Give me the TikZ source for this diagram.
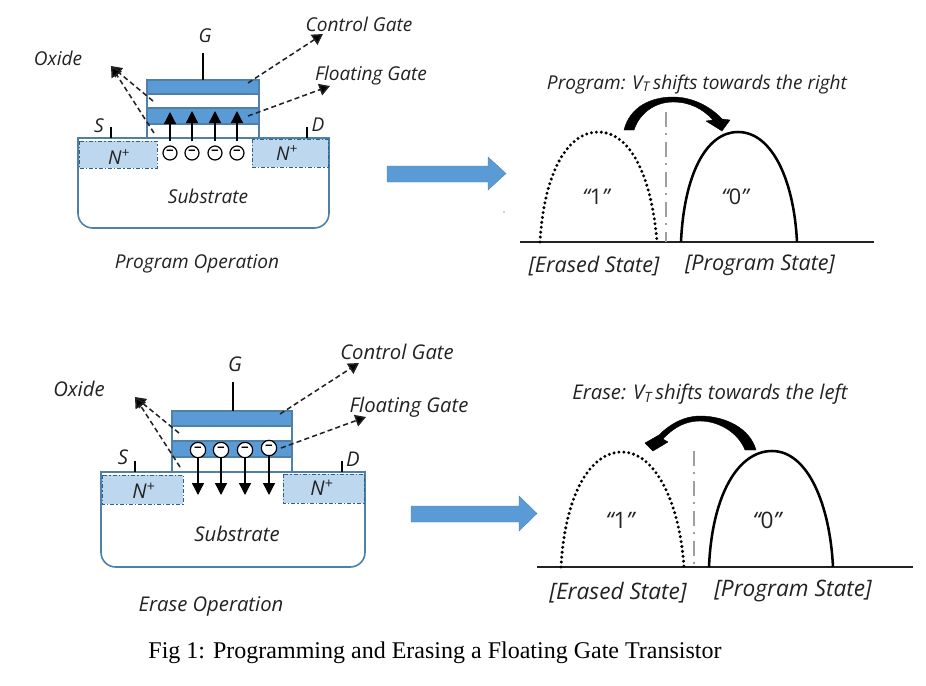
\documentclass[tikz,border=0pt]{standalone}
\usepackage{fontspec}
\setmainfont{Open Sans}
\newfontfamily\capfont{Liberation Serif}
\usetikzlibrary{arrows.meta}
\definecolor{gateblue}{HTML}{5B9BD5}
\definecolor{edgeblue}{HTML}{4F81A8}
\definecolor{wellblue}{HTML}{BDD7EE}
\definecolor{welledge}{HTML}{2F5F8A}
\definecolor{inkgrey}{HTML}{222222}
\tikzset{
  lbl/.style={font=\fontsize{14.3}{17}\selectfont\itshape, text=inkgrey, inner sep=0pt},
  lblb/.style={font=\fontsize{15.2}{18}\selectfont\itshape, text=inkgrey, inner sep=0pt},
  vals/.style={font=\fontsize{16.2}{19}\selectfont\itshape, text=inkgrey, inner sep=0pt},
  valsb/.style={font=\fontsize{17}{20}\selectfont\itshape, text=inkgrey, inner sep=0pt},
  oxidebox/.style={draw=edgeblue, line width=1.2pt, fill=white},
  gatebox/.style={draw=edgeblue, line width=1.2pt, fill=gateblue},
  wellbox/.style={draw=welledge, line width=.7pt, dash pattern=on 3pt off 1.5pt on 1pt off 1.5pt, fill=wellblue},
  subedge/.style={draw=edgeblue, line width=1.2pt, fill=white},
  lead/.style={draw=black, line width=.8pt},
  pointer/.style={draw=inkgrey, line width=1.15pt, dash pattern=on 3.8pt off 2.4pt, -{Triangle[length=8pt,width=9pt,fill=black]}},
  flow/.style={draw=black, line width=1pt, -{Triangle[length=9pt,width=9pt,fill=black]}},
  electron/.style={circle, draw=black, line width=.9pt, fill=white, minimum size=10.5pt, inner sep=0pt, font=\fontsize{10}{10}\selectfont\bfseries},
  blockarrow/.style={fill=gateblue, draw=edgeblue, line width=.3pt},
  erased/.style={draw=black, line width=2.5pt, line cap=round, dash pattern=on 0pt off 3.7pt},
  written/.style={draw=black, line width=1.9pt},
  axisline/.style={draw=inkgrey, line width=1pt},
  centreline/.style={draw=gray!75, line width=2pt, dash pattern=on 11pt off 5pt on 1.5pt off 5pt},
  swoop/.style={fill=black, draw=black, line width=.3pt, line join=round}
}
\begin{document}
\begin{tikzpicture}[x=.75pt,y=-.75pt]
\useasboundingbox (0,0) rectangle (926,686);

% ---- programming: device cross-section ----
\draw[subedge] (78,138) [rounded corners=11pt] -- (78,228) -- (329,228) [sharp corners] -- (329,138) -- cycle;
\draw[wellbox] (79,141) rectangle (157,168);
\draw[wellbox] (252,139) rectangle (328,167);
\draw[oxidebox] (146.7,80) rectangle (259,138);
\draw[oxidebox] (146.7,94) rectangle (259,108);
\draw[gatebox] (146.7,80) rectangle (259,94);
\draw[gatebox] (146.7,108) rectangle (259,124);
\coordinate (pg) at (203,80);
\coordinate (pgtop) at (203,53);
\draw[lead] (pg) -- (pgtop);
\coordinate (ps) at (111,138);
\coordinate (pstop) at (111,127);
\draw[lead] (ps) -- (pstop);
\coordinate (pd) at (307,138);
\coordinate (pdtop) at (307,127);
\draw[lead] (pd) -- (pdtop);

\node[electron] (pe1) at (170,153) {−};
\node[electron] (pe2) at (192,153) {−};
\node[electron] (pe3) at (215,153) {−};
\node[electron] (pe4) at (237,153) {−};
\coordinate (pf1) at (170,112);
\coordinate (pf2) at (192,111);
\coordinate (pf3) at (215,111);
\coordinate (pf4) at (237,111);
\draw[flow,shorten <=3pt] (pe1.north) -- (pf1);
\draw[flow,shorten <=3pt] (pe2.north) -- (pf2);
\draw[flow,shorten <=3pt] (pe3.north) -- (pf3);
\draw[flow,shorten <=3pt] (pe4.north) -- (pf4);

\coordinate (poxtip) at (111,66);
\coordinate (poxa) at (153,101);
\coordinate (poxb) at (154,133);
\coordinate (pcga) at (248,83);
\coordinate (pcgb) at (323,34);
\coordinate (pfga) at (248,116);
\coordinate (pfgb) at (330,86);
\draw[pointer] (poxa) -- (poxtip);
\draw[pointer] (poxb) -- (poxtip);
\draw[pointer] (pcga) -- (pcgb);
\draw[pointer] (pfga) -- (pfgb);

\node[lbl] (pGl) at (205,36) {G};
\node[lbl] (pOx) at (58,58) {Oxide};
\node[lbl] (pCG) at (359,24) {Control Gate};
\node[lbl] (pFG) at (371,76) {Floating Gate};
\node[lbl] (pSl) at (99,126) {S};
\node[lbl] (pDl) at (318,125) {D};
\node[lbl] (pNl) at (119,157) {N\textsuperscript{+}};
\node[lbl] (pNr) at (287,153) {N\textsuperscript{+}};
\node[lbl] (pSub) at (208,196) {Substrate};
\node[lbl] (pOp) at (197,264) {Program Operation};

\draw[blockarrow] (387,166) -- (488,166) -- (488,157) -- (506,173.5) -- (488,190) -- (488,182) -- (387,182) -- cycle;
\fill[black!70] (504,212) circle (.7);

% ---- programming: threshold distributions ----
\coordinate (pa0) at (520,242);
\coordinate (pa1) at (874,242);
\draw[axisline] (pa0) -- (pa1);
\coordinate (pc0) at (666,112);
\coordinate (pc1) at (666,242);
\draw[centreline] (pc0) -- (pc1);
\draw[erased] (540,242) .. controls (544,172) and (568,132) .. (598,132) .. controls (632,132) and (652,180) .. (657,242);
\draw[written] (681,242) .. controls (684,175) and (706,132) .. (738,132) .. controls (772,132) and (794,180) .. (797,242);
\draw[swoop] (624,130) .. controls (630,106) and (652,97) .. (673,97) .. controls (693,97) and (711,107) .. (722,119) -- (730,120) -- (722,131) -- (706,121) -- (713,120) .. controls (703,109) and (690,102) .. (673,102) .. controls (656,102) and (640,112) .. (634,130) -- cycle;

\node[lbl] (pTitle) at (697,84) {Program: V\textsubscript{T}\,shifts towards the right};
\node[vals] (pOne) at (596,197) {“{\upshape 1}”};
\node[vals] (pZero) at (735,197) {“{\upshape 0}”};
\node[vals] (pEr) at (594,266) {[Erased State]};
\node[vals] (pPr) at (760,265) {[Program State]};

% ---- erasing: device cross-section ----
\draw[subedge] (101,472) [rounded corners=11pt] -- (101,567) -- (365,567) [sharp corners] -- (365,472) -- cycle;
\draw[wellbox] (102,475) rectangle (183,504);
\draw[wellbox] (283,474) rectangle (364,503);
\draw[oxidebox] (172,411) rectangle (292,472);
\draw[oxidebox] (172,426) rectangle (292,441);
\draw[gatebox] (172,411) rectangle (292,426);
\draw[gatebox] (172,441) rectangle (292,457);
\coordinate (eg) at (233,411);
\coordinate (egtop) at (233,382);
\draw[lead] (eg) -- (egtop);
\coordinate (es) at (135,472);
\coordinate (estop) at (135,461);
\draw[lead] (es) -- (estop);
\coordinate (ed) at (342,472);
\coordinate (edtop) at (342,461);
\draw[lead] (ed) -- (edtop);

\node[electron,minimum size=11.5pt] (ee1) at (198,450) {−};
\node[electron,minimum size=11.5pt] (ee2) at (221,450) {−};
\node[electron,minimum size=11.5pt] (ee3) at (245,450) {−};
\node[electron,minimum size=11.5pt] (ee4) at (269,448) {−};
\coordinate (ef1) at (198,495);
\coordinate (ef2) at (221,495);
\coordinate (ef3) at (245,495);
\coordinate (ef4) at (269,495);
\draw[flow] (ee1.south) -- (ef1);
\draw[flow] (ee2.south) -- (ef2);
\draw[flow] (ee3.south) -- (ef3);
\draw[flow] (ee4.south) -- (ef4);

\coordinate (eoxtip) at (135,397);
\coordinate (eoxa) at (179,433);
\coordinate (eoxb) at (180,467);
\coordinate (ecga) at (280,414);
\coordinate (ecgb) at (359,363);
\coordinate (efga) at (281,448);
\coordinate (efgb) at (366,417);
\draw[pointer] (eoxa) -- (eoxtip);
\draw[pointer] (eoxb) -- (eoxtip);
\draw[pointer] (ecga) -- (ecgb);
\draw[pointer] (efga) -- (efgb);

\node[lblb] (eGl) at (235,364) {G};
\node[lblb] (eOx) at (79,389) {Oxide};
\node[lblb] (eCG) at (397,352) {Control Gate};
\node[lblb] (eFG) at (409,407) {Floating Gate};
\node[lblb] (eSl) at (123,457) {S};
\node[lblb] (eDl) at (353,459) {D};
\node[lblb] (eNl) at (144,491) {N\textsuperscript{+}};
\node[lblb] (eNr) at (322,488) {N\textsuperscript{+}};
\node[lblb] (eSub) at (237,534) {Substrate};
\node[lblb] (eOp) at (211,606) {Erase Operation};

\draw[blockarrow] (411,506) -- (519,506) -- (519,496) -- (537,513.5) -- (519,531) -- (519,522) -- (411,522) -- cycle;

% ---- erasing: threshold distributions ----
\coordinate (ea0) at (537,567);
\coordinate (ea1) at (913,567);
\draw[axisline] (ea0) -- (ea1);
\coordinate (ec0) at (694,451);
\coordinate (ec1) at (694,567);
\draw[centreline] (ec0) -- (ec1);
\draw[erased] (561,567) .. controls (565,495) and (590,452) .. (622,452) .. controls (656,452) and (680,505) .. (684,567);
\draw[written] (709,567) .. controls (712,495) and (738,451) .. (772,451) .. controls (808,451) and (830,505) .. (833,567);
\draw[swoop] (756,450) .. controls (750,428) and (725,416) .. (700,416) .. controls (684,416) and (670,424) .. (659,435) -- (645,443) -- (653,451) -- (668,442) -- (663,439) .. controls (674,427) and (686,421) .. (700,421) .. controls (718,421) and (738,432) .. (745,450) -- cycle;

\node[lblb] (eTitle) at (710,394) {Erase: V\textsubscript{T}\,shifts towards the left};
\node[valsb] (eOne) at (620,520) {“{\upshape 1}”};
\node[valsb] (eZero) at (767,520) {“{\upshape 0}”};
\node[valsb] (eEr) at (618,593) {[Erased State]};
\node[valsb] (ePr) at (793,591) {[Program State]};

\node[font=\capfont\fontsize{18}{21}\selectfont, inner sep=0pt] (cap) at (435,653) {Fig 1: Programming and Erasing a Floating Gate Transistor};
\end{tikzpicture}
\end{document}
